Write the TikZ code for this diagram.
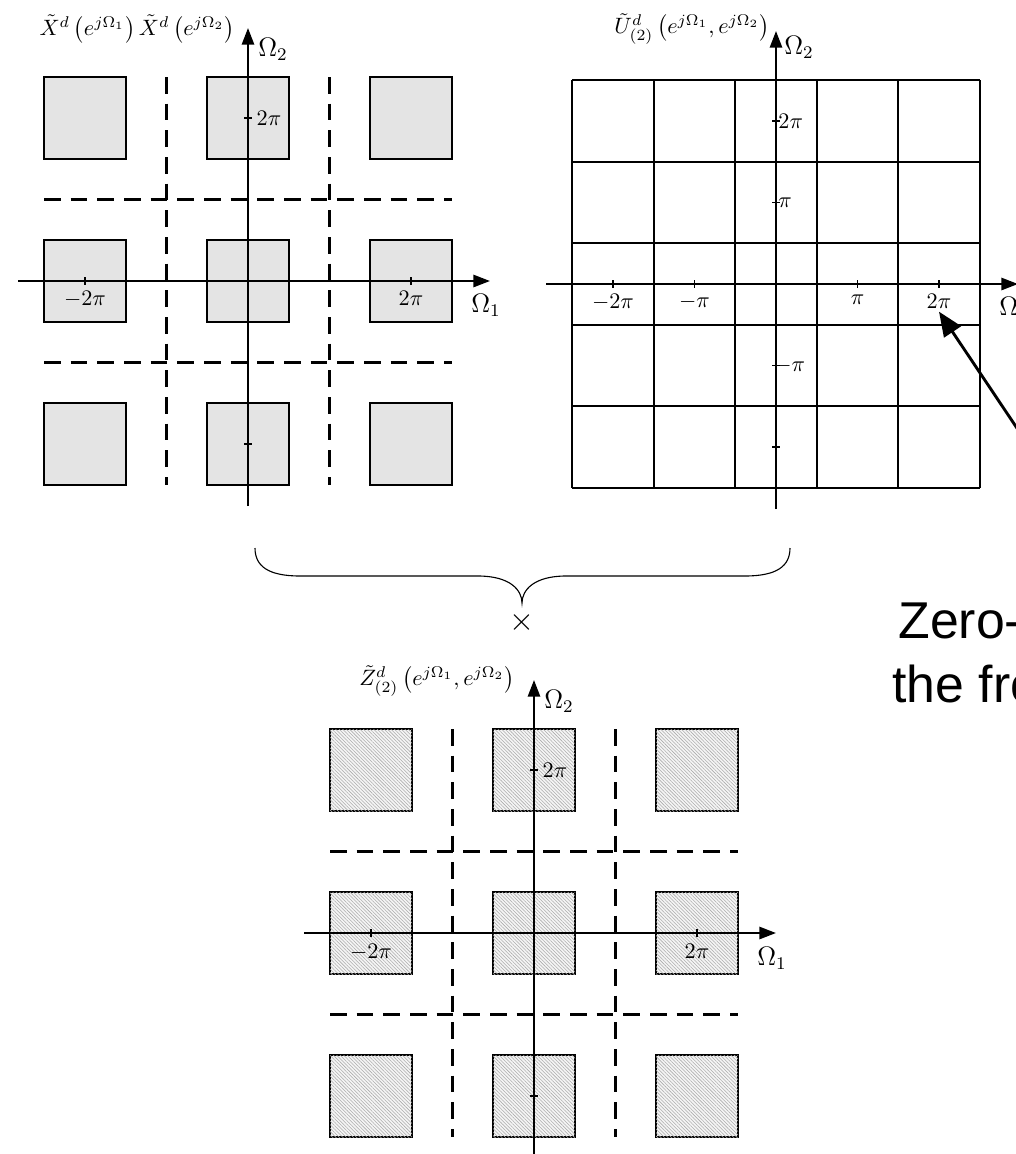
\documentclass[tikz,border=0pt]{standalone}
\usepackage{fontspec}
\newfontfamily\arialf{Liberation Sans}
\usetikzlibrary{arrows.meta,patterns.meta}
\definecolor{boxgray}{RGB}{228,228,228}
\begin{document}
\begin{tikzpicture}[x=0.45pt,y=-0.45pt,
  axis/.style={line width=1pt,-{Triangle[length=7.5pt,width=5.5pt]}},
  sqbox/.style={draw,line width=1.1pt,fill=boxgray},
  hbox/.style={draw,line width=1.1pt,fill=gray!8,
    postaction={pattern={Lines[angle=-45,distance=1.1pt,line width=0.25pt]},pattern color=gray!65}},
  dline/.style={line width=1pt,dash pattern=on 7.5pt off 4.5pt},
  gline/.style={line width=1pt},
  tickmark/.style={line width=0.5pt},
  xlbl/.style={anchor=north,inner sep=1pt},
  ylbl/.style={anchor=west,inner sep=1pt},
  omlbl/.style={inner sep=0pt,font=\large},
  ttl/.style={anchor=east,inner sep=0pt}
]
\useasboundingbox (0,0) rectangle (1016,1154);

% ---------------- Panel A ----------------
\begin{scope}[shift={(248,281)}]
  \foreach \i in {-163,0,163}
    \foreach \j in {-163,0,163}
      \draw[sqbox] (\i-41,\j-41) rectangle (\i+41,\j+41);
  \draw[dline] (-81.5,-204) -- (-81.5,204);
  \draw[dline] (81.5,-204) -- (81.5,204);
  \draw[dline] (-204,-81.5) -- (204,-81.5);
  \draw[dline] (-204,81.5) -- (204,81.5);
  \coordinate (Aw) at (-230,0);
  \coordinate (Ae) at (242,0);
  \coordinate (As) at (0,225);
  \coordinate (An) at (0,-253);
  \draw[axis] (Aw) -- (Ae);
  \draw[axis] (As) -- (An);
  \draw[tickmark] (-163,-4) -- (-163,4);
  \draw[tickmark] (163,-4) -- (163,4);
  \draw[tickmark] (-4,-163) -- (4,-163);
  \draw[tickmark] (-4,163) -- (4,163);
  \node[xlbl] (Axm2) at (-163,8) {$-2\pi$};
  \node[xlbl] (Axp2) at (163,8) {$2\pi$};
  \node[ylbl] (Ayp2) at (6,-163) {$2\pi$};
  \node[omlbl] (AO1) at (238,24) {$\Omega_1$};
  \node[omlbl] (AO2) at (25,-232) {$\Omega_2$};
\end{scope}
\node[ttl] (Atitle) at (235,29) {$\tilde{X}^d\left(e^{j\Omega_1}\right)\tilde{X}^d\left(e^{j\Omega_2}\right)$};

% ---------------- Panel B ----------------
\begin{scope}[shift={(776,284)}]
  \foreach \v in {-204,-122,-41,41,122,204} {
    \draw[gline] (\v,-204) -- (\v,204);
    \draw[gline] (-204,\v) -- (204,\v);
  }
  \coordinate (Bw) at (-230,0);
  \coordinate (Be) at (242,0);
  \coordinate (Bs) at (0,225);
  \coordinate (Bn) at (0,-253);
  \draw[axis] (Bw) -- (Be);
  \draw[axis] (Bs) -- (Bn);
  \foreach \t in {-163,-81.5,81.5,163} {
    \draw[tickmark] (\t,-4) -- (\t,4);
    \draw[tickmark] (-4,\t) -- (4,\t);
  }
  \node[xlbl] (Bxm2) at (-163,8) {$-2\pi$};
  \node[xlbl] (Bxm1) at (-81.5,8) {$-\pi$};
  \node[xlbl] (Bxp1) at (81.5,8) {$\pi$};
  \node[xlbl] (Bxp2) at (163,8) {$2\pi$};
  \node[ylbl,inner sep=0pt] (Byp2) at (2,-163) {$2\pi$};
  \node[ylbl,inner sep=0pt] (Byp1) at (2,-81.5) {$\pi$};
  \node[ylbl,inner sep=0pt] (Bym1) at (-2,81.5) {$-\pi$};
  \node[omlbl] (BO1) at (238,24) {$\Omega_1$};
  \node[omlbl] (BO2) at (23,-237) {$\Omega_2$};
\end{scope}
\node[ttl] (Btitle) at (770,29) {$\tilde{U}^d_{(2)}\left(e^{j\Omega_1},e^{j\Omega_2}\right)$};

% ---------------- Panel C ----------------
\begin{scope}[shift={(534,933)}]
  \foreach \i in {-163,0,163}
    \foreach \j in {-163,0,163}
      \draw[hbox] (\i-41,\j-41) rectangle (\i+41,\j+41);
  \draw[dline] (-81.5,-204) -- (-81.5,204);
  \draw[dline] (81.5,-204) -- (81.5,204);
  \draw[dline] (-204,-81.5) -- (204,-81.5);
  \draw[dline] (-204,81.5) -- (204,81.5);
  \coordinate (Cw) at (-230,0);
  \coordinate (Ce) at (242,0);
  \coordinate (Cs) at (0,225);
  \coordinate (Cn) at (0,-253);
  \draw[axis] (Cw) -- (Ce);
  \draw[axis] (Cs) -- (Cn);
  \draw[tickmark] (-163,-4) -- (-163,4);
  \draw[tickmark] (163,-4) -- (163,4);
  \draw[tickmark] (-4,-163) -- (4,-163);
  \draw[tickmark] (-4,163) -- (4,163);
  \node[xlbl] (Cxm2) at (-163,8) {$-2\pi$};
  \node[xlbl] (Cxp2) at (163,8) {$2\pi$};
  \node[ylbl] (Cyp2) at (6,-163) {$2\pi$};
  \node[omlbl] (CO1) at (238,25) {$\Omega_1$};
  \node[omlbl] (CO2) at (25,-232) {$\Omega_2$};
\end{scope}
\node[ttl] (Ctitle) at (515,681) {$\tilde{Z}^d_{(2)}\left(e^{j\Omega_1},e^{j\Omega_2}\right)$};

% ---------------- Brace and product sign ----------------
\draw[line width=0.5pt] (255,548) .. controls (255,566) and (268,576) .. (300,576)
  -- (478,576) .. controls (510,576) and (522,590) .. (522,603)
  .. controls (522,590) and (534,576) .. (566,576)
  -- (745,576) .. controls (777,576) and (790,566) .. (790,548);
\node[inner sep=0pt,font=\Large] (times) at (522,622) {$\times$};

% ---------------- Annotation ----------------
\node[font=\arialf\fontsize{23.3}{28}\selectfont,anchor=base west,inner sep=0pt] (zline1) at (898,638) {Zero-};
\node[font=\arialf\fontsize{23.3}{28}\selectfont,anchor=base west,inner sep=0pt] (zline2) at (892,702) {the fro};
\coordinate (ptrS) at (1045,470);
\draw[line width=1.3pt,-{Triangle[length=11pt,width=9pt]}] (ptrS) -- (Bxp2.south);
\end{tikzpicture}
\end{document}
